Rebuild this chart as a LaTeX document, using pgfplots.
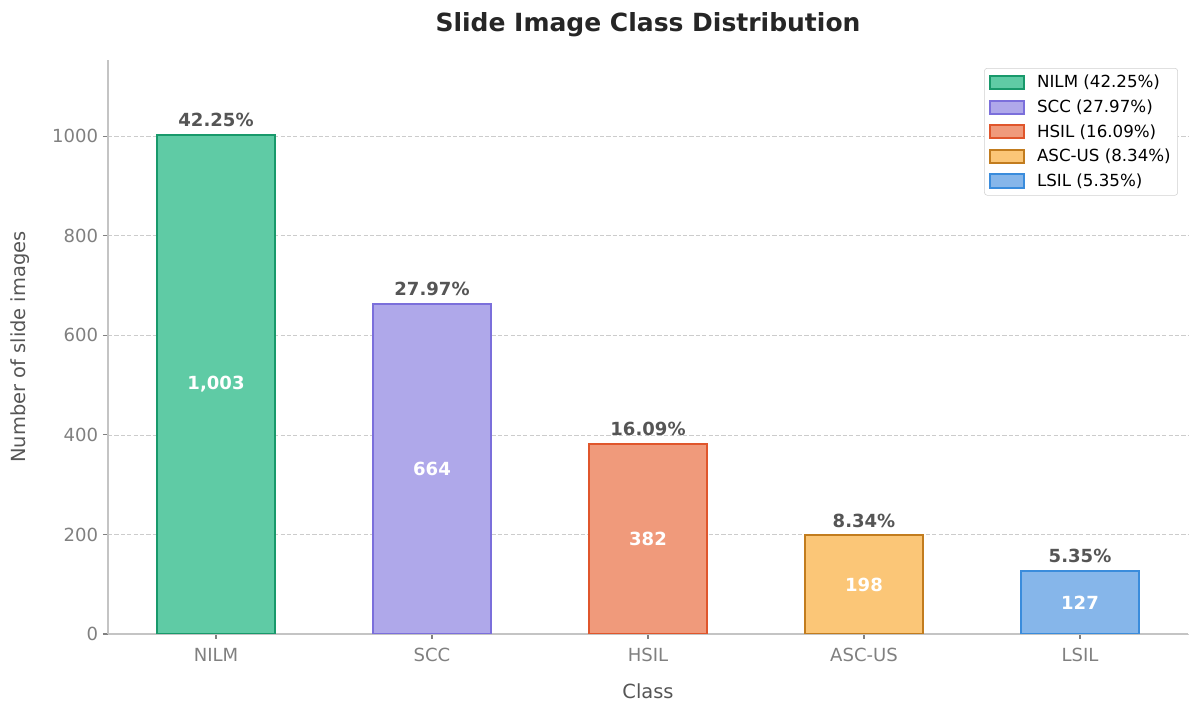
\documentclass[border=0pt]{standalone}
\usepackage{pgfplots}
\pgfplotsset{compat=1.18}
\usepackage{fontspec}
\setmainfont{DejaVu Sans}

\definecolor{nilmF}{HTML}{5FCBA5}
\definecolor{nilmE}{HTML}{18996B}
\definecolor{sccF}{HTML}{AFA8EA}
\definecolor{sccE}{HTML}{7B6FDB}
\definecolor{hsilF}{HTML}{F09A7B}
\definecolor{hsilE}{HTML}{E0562C}
\definecolor{ascF}{HTML}{FBC677}
\definecolor{ascE}{HTML}{C27C1E}
\definecolor{lsilF}{HTML}{86B6EA}
\definecolor{lsilE}{HTML}{3A8CDC}
\definecolor{txtgray}{HTML}{555555}
\definecolor{tickgray}{HTML}{808080}
\definecolor{spinegray}{HTML}{C4C4C4}

\begin{document}
\begin{tikzpicture}[x=1pt,y=1pt]
\useasboundingbox (0,0) rectangle (864,513.36);
\begin{axis}[
    at={(77.76pt,56.88pt)}, anchor=south west,
    scale only axis,
    width=777.6pt, height=413.28pt,
    xmin=-0.5, xmax=4.5,
    ymin=0, ymax=1153.45,
    ybar, bar width=0.55,
    axis lines*=left,
    axis line style={spinegray, line width=0.8pt},
    xtick={0,1,2,3,4},
    xticklabels={NILM,SCC,HSIL,ASC-US,LSIL},
    ytick={0,200,400,600,800,1000},
    tick align=outside,
    major tick length=3.6pt,
    tick style={tickgray, line width=0.8pt},
    ticklabel style={font=\fontsize{13}{15}\selectfont, text=tickgray},
    xticklabel style={yshift=-3pt},
    /pgf/number format/assume math mode=true,
    /pgf/number format/1000 sep={},
    ymajorgrids,
    grid style={dash pattern=on 3pt off 1.6pt, color=black!20, line width=0.6pt},
    title={Slide Image Class Distribution},
    title style={at={(axis description cs:0.5,1.047)}, anchor=center,
        font=\bfseries\fontsize{18}{21}\selectfont, text=black!85},
    xlabel={Class},
    xlabel style={at={(axis description cs:0.5,-0.0992)}, anchor=center,
        font=\fontsize{14}{17}\selectfont, text=txtgray},
    ylabel={Number of slide images},
    ylabel style={at={(axis description cs:-0.0815,0.5)}, anchor=center,
        font=\fontsize{14}{17}\selectfont, text=txtgray},
    legend style={at={(0.9907,0.986)}, anchor=north east,
        draw=black!18, rounded corners=2pt,
        font=\fontsize{12}{14}\selectfont,
        row sep=3.1pt, inner sep=3pt,
        /tikz/every odd column/.append style={column sep=6.5pt}},
    legend cell align=left,
    legend image code/.code={\draw[#1, sharp corners, line width=1.4pt] (0pt,-4.8pt) rectangle (25pt,4.8pt);},
    point meta=explicit symbolic,
    nodes near coords,
    nodes near coords style={anchor=south, inner sep=0pt, yshift=5pt,
        font=\bfseries\fontsize{13}{15}\selectfont, text=txtgray},
]
\addplot[bar shift=0pt, fill=nilmF, draw=nilmE, line width=1.4pt]
    coordinates {(0,1003) [42.25\%]};
\addlegendentry{NILM (42.25\%)}
\addplot[bar shift=0pt, fill=sccF, draw=sccE, line width=1.4pt]
    coordinates {(1,664) [27.97\%]};
\addlegendentry{SCC (27.97\%)}
\addplot[bar shift=0pt, fill=hsilF, draw=hsilE, line width=1.4pt]
    coordinates {(2,382) [16.09\%]};
\addlegendentry{HSIL (16.09\%)}
\addplot[bar shift=0pt, fill=ascF, draw=ascE, line width=1.4pt]
    coordinates {(3,198) [8.34\%]};
\addlegendentry{ASC-US (8.34\%)}
\addplot[bar shift=0pt, fill=lsilF, draw=lsilE, line width=1.4pt]
    coordinates {(4,127) [5.35\%]};
\addlegendentry{LSIL (5.35\%)}

\begin{scope}[every node/.style={text=white, font=\bfseries\fontsize{13}{15}\selectfont}]
\node at (axis cs:0,501.5) {1,003};
\node at (axis cs:1,332) {664};
\node at (axis cs:2,191) {382};
\node at (axis cs:3,99) {198};
\node at (axis cs:4,63.5) {127};
\end{scope}
\end{axis}
\end{tikzpicture}
\end{document}
